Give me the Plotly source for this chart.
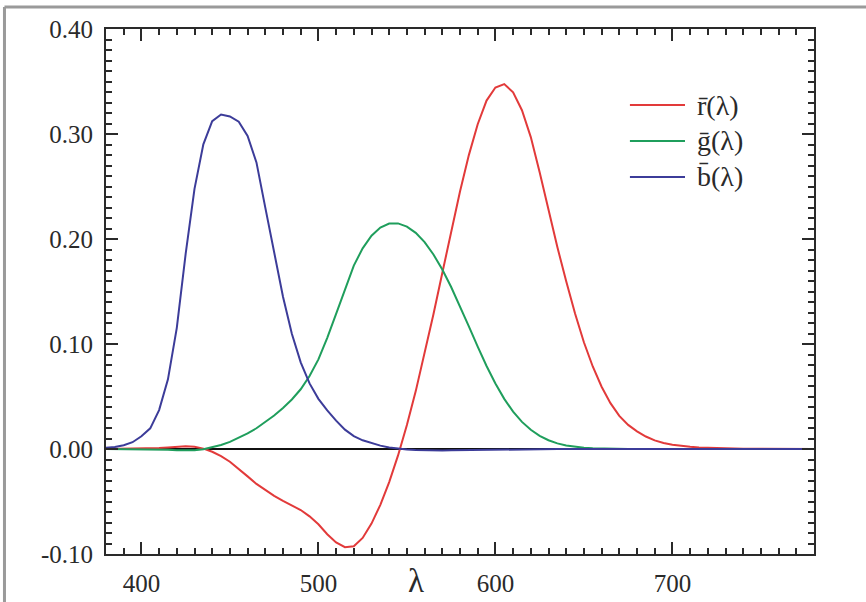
import plotly.graph_objects as go

# CIE 1931 RGB colour-matching functions, 5 nm steps
wavelength = list(range(380, 785, 5))

r_bar = [0.00003, 0.00005, 0.00010, 0.00017, 0.00030, 0.00047, 0.00084, 0.00139,
         0.00211, 0.00266, 0.00218, 0.00036, -0.00261, -0.00673, -0.01213, -0.01874,
         -0.02608, -0.03324, -0.03933, -0.04471, -0.04939, -0.05364, -0.05814, -0.06414,
         -0.07173, -0.08120, -0.08901, -0.09356, -0.09264, -0.08473, -0.07101, -0.05316,
         -0.03152, -0.00613, 0.02279, 0.05514, 0.09060, 0.12840, 0.16768, 0.20715,
         0.24526, 0.27989, 0.30928, 0.33184, 0.34429, 0.34756, 0.33971, 0.32265,
         0.29708, 0.26348, 0.22677, 0.19233, 0.15968, 0.12905, 0.10167, 0.07857,
         0.05932, 0.04366, 0.03149, 0.02294, 0.01687, 0.01187, 0.00819, 0.00572,
         0.00410, 0.00291, 0.00210, 0.00148, 0.00105, 0.00074, 0.00052, 0.00036,
         0.00025, 0.00017, 0.00012, 0.00008, 0.00006, 0.00004, 0.00003, 0.00001, 0.0]

g_bar = [-0.00001, -0.00002, -0.00004, -0.00007, -0.00014, -0.00022, -0.00041, -0.00070,
         -0.00110, -0.00143, -0.00119, -0.00021, 0.00149, 0.00379, 0.00678, 0.01046,
         0.01485, 0.01977, 0.02538, 0.03183, 0.03914, 0.04713, 0.05689, 0.06948,
         0.08536, 0.10593, 0.12860, 0.15262, 0.17468, 0.19113, 0.20317, 0.21083,
         0.21466, 0.21487, 0.21178, 0.20588, 0.19702, 0.18522, 0.17087, 0.15429,
         0.13610, 0.11686, 0.09754, 0.07909, 0.06246, 0.04776, 0.03557, 0.02583,
         0.01828, 0.01253, 0.00833, 0.00537, 0.00334, 0.00199, 0.00116, 0.00066,
         0.00037, 0.00021, 0.00011, 0.00006, 0.00003, 0.00001, 0.00001, 0.0,
         0.0, 0.0, 0.0, 0.0, 0.0, 0.0, 0.0, 0.0,
         0.0, 0.0, 0.0, 0.0, 0.0, 0.0, 0.0, 0.0, 0.0]

b_bar = [0.00117, 0.00189, 0.00359, 0.00647, 0.01214, 0.01969, 0.03707, 0.06637,
         0.11541, 0.18575, 0.24769, 0.29012, 0.31228, 0.31860, 0.31670, 0.31166,
         0.29821, 0.27295, 0.22991, 0.18592, 0.14494, 0.10968, 0.08257, 0.06246,
         0.04776, 0.03688, 0.02698, 0.01842, 0.01221, 0.00830, 0.00549, 0.00320,
         0.00146, 0.00023, -0.00058, -0.00105, -0.00130, -0.00138, -0.00135, -0.00123,
         -0.00108, -0.00093, -0.00079, -0.00063, -0.00049, -0.00038, -0.00030, -0.00022,
         -0.00015, -0.00011, -0.00008, -0.00005, -0.00003, -0.00002, -0.00001, -0.00001,
         0.0, 0.0, 0.0, 0.0, 0.0, 0.0, 0.0, 0.0,
         0.0, 0.0, 0.0, 0.0, 0.0, 0.0, 0.0, 0.0,
         0.0, 0.0, 0.0, 0.0, 0.0, 0.0, 0.0, 0.0, 0.0]

series_names = ["r\u0304(\u03bb)", "g\u0304(\u03bb)", "b\u0304(\u03bb)"]
series_colors = ["#e23a3a", "#1f9e5c", "#3c3c99"]

x_tickvals = [400, 500, 600, 700]
x_ticktext = ["400", "500", "600", "700"]
y_tickvals = [-0.1, 0.0, 0.1, 0.2, 0.3, 0.4]
y_ticktext = ["-0.10", "0.00", "0.10", "0.20", "0.30", "0.40"]

FONT = "'Liberation Serif', 'Times New Roman', Times, serif"
INK = "#2a2a2a"

fig = go.Figure()
for name, ys, col in zip(series_names, [r_bar, g_bar, b_bar], series_colors):
    fig.add_trace(go.Scatter(x=wavelength, y=ys, mode="lines", name=name,
                             line=dict(color=col, width=2), showlegend=False))

axis_common = dict(
    showgrid=False, showline=True, linecolor=INK, linewidth=2,
    ticks="inside", ticklen=12, tickwidth=2, tickcolor=INK, mirror="allticks",
    tickfont=dict(family=FONT, size=25, color=INK), automargin=False,
)
fig.update_xaxes(range=[380, 780], tickmode="array", tickvals=x_tickvals,
                 ticktext=x_ticktext, zeroline=False,
                 minor=dict(dtick=10, tick0=380, ticks="inside", ticklen=6,
                            tickwidth=2, tickcolor=INK, showgrid=False),
                 ticklabelstandoff=6, **axis_common)
fig.update_yaxes(range=[-0.1, 0.4], tickmode="array", tickvals=y_tickvals,
                 ticktext=y_ticktext, zeroline=True, zerolinecolor="#111111",
                 zerolinewidth=2,
                 minor=dict(dtick=0.01, tick0=0, ticks="inside", ticklen=6,
                            tickwidth=2, tickcolor=INK, showgrid=False),
                 ticklabelstandoff=6, **axis_common)

# axis title
fig.add_annotation(x=555, y=0, xref="x", yref="paper", yshift=-46, yanchor="bottom",
                   text="\u03bb", showarrow=False, borderpad=0,
                   font=dict(family=FONT, size=33, color=INK))

# legend: swatch line plus label for each series
legend_y = [0.8552, 0.7867, 0.7181]
for name, col, ly in zip(series_names, series_colors, legend_y):
    fig.add_shape(type="line", xref="paper", yref="paper", x0=0.740, x1=0.8178,
                  y0=ly, y1=ly, line=dict(color=col, width=2))
    fig.add_annotation(x=0.8319, y=ly, xref="paper", yref="paper", xanchor="left",
                       yanchor="middle", text=name, showarrow=False,
                       font=dict(family=FONT, size=28, color=INK))

# grey frame on the top and left
fig.add_shape(type="line", xref="paper", yref="paper", x0=-0.1434, x1=1.1,
              y0=1.0419, y1=1.0419, line=dict(color="#9a9a9a", width=3))
fig.add_shape(type="line", xref="paper", yref="paper", x0=-0.1434, x1=-0.1434,
              y0=-0.1, y1=1.0419, line=dict(color="#9a9a9a", width=3))

fig.update_layout(width=866, height=602, margin=dict(l=106, r=52, t=29, b=48),
                  paper_bgcolor="white", plot_bgcolor="white", showlegend=False)

fig.write_html("out.html")
